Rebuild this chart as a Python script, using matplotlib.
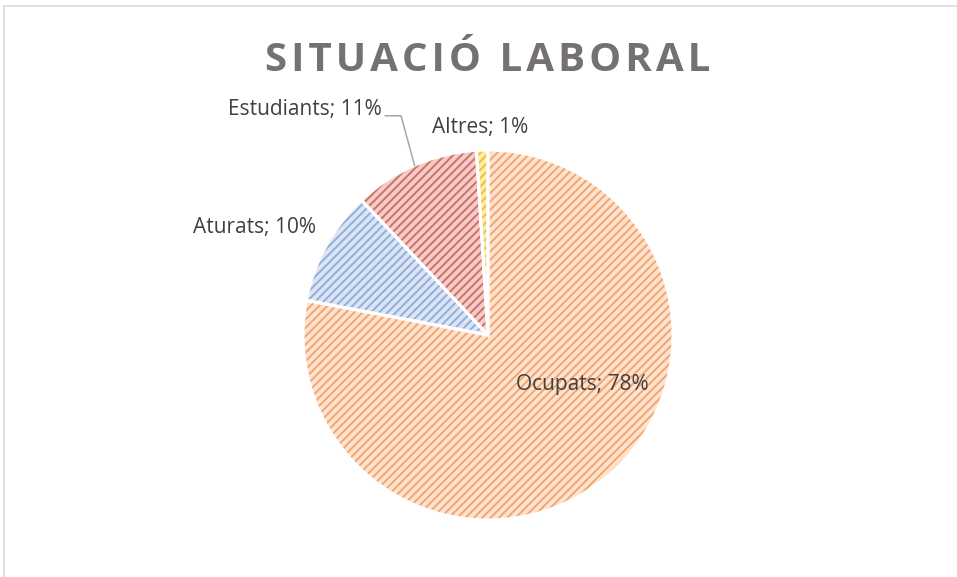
import matplotlib as mpl
import matplotlib.pyplot as plt
from matplotlib.patches import Rectangle
import numpy as np

mpl.rcParams['font.family'] = ['Open Sans', 'DejaVu Sans']
mpl.rcParams['hatch.linewidth'] = 1.4

# data
categories = ['Ocupats', 'Aturats', 'Estudiants', 'Altres']
values = [78, 10, 11, 1]
pct_labels = ['78%', '10%', '11%', '1%']

# colours: hatch line colour and background per slice
line_cols = ['#F4A56E', '#92AEDD', '#CF6F69', '#F2C12E']
back_cols = ['#FDE3D0', '#DCE5F4', '#F5CCC8', '#FCEBB0']

fig = plt.figure(figsize=(9.57, 5.77), dpi=100)
ax = fig.add_axes([0, 0, 1, 1])

# hatched wedges (edge colour drives the hatch colour)
w1, _ = ax.pie(values, startangle=90, counterclock=False, radius=1,
               colors=back_cols,
               wedgeprops=dict(linewidth=0))
for w, lc in zip(w1, line_cols):
    w.set_hatch('////')
    w.set_edgecolor(lc)
    w.set_linewidth(0)

# white separators on top
ax.pie(values, startangle=90, counterclock=False, radius=1,
       colors=['none'] * len(values),
       wedgeprops=dict(edgecolor='white', linewidth=2.2, fill=False))

# label positions (pie units, radius = 1)
lab_pos = [(0.51, -0.265), (-1.26, 0.58), (-0.99, 1.22), (-0.04, 1.12)]
for cat, p, (x, y) in zip(categories, pct_labels, lab_pos):
    ax.text(x, y, f'{cat}; {p}', ha='center', va='center',
            fontsize=15, color='#404040')

# leader line for Estudiants
tot = sum(values)
start = sum(values[:2]) / tot
mid = (start + values[2] / tot / 2) * 360
ang = np.deg2rad(90 - mid)
ex, ey = np.cos(ang), np.sin(ang)
ax.plot([-0.555, -0.47, ex], [1.185, 1.185, ey], color='#A6A6A6', lw=1.1)

# title (letter spaced)
title = 'SITUACIÓ LABORAL'
ax.text(0, 1.483, '\u200a'.join(title), ha='center', va='center',
        fontsize=29, fontweight='bold', color='#767171')

ax.set_xlim(-488 / 185, (957 - 488) / 185)
ax.set_ylim(-(577 - 335) / 185, 335 / 185)
ax.set_aspect('auto')
ax.axis('off')

# chart border
fig.add_artist(Rectangle((4 / 957, -0.1), 1.2, 1.1 - 6 / 577,
                         transform=fig.transFigure, fill=False,
                         edgecolor='#D9D9D9', linewidth=1.2))

fig.savefig('out.png', dpi=100)
